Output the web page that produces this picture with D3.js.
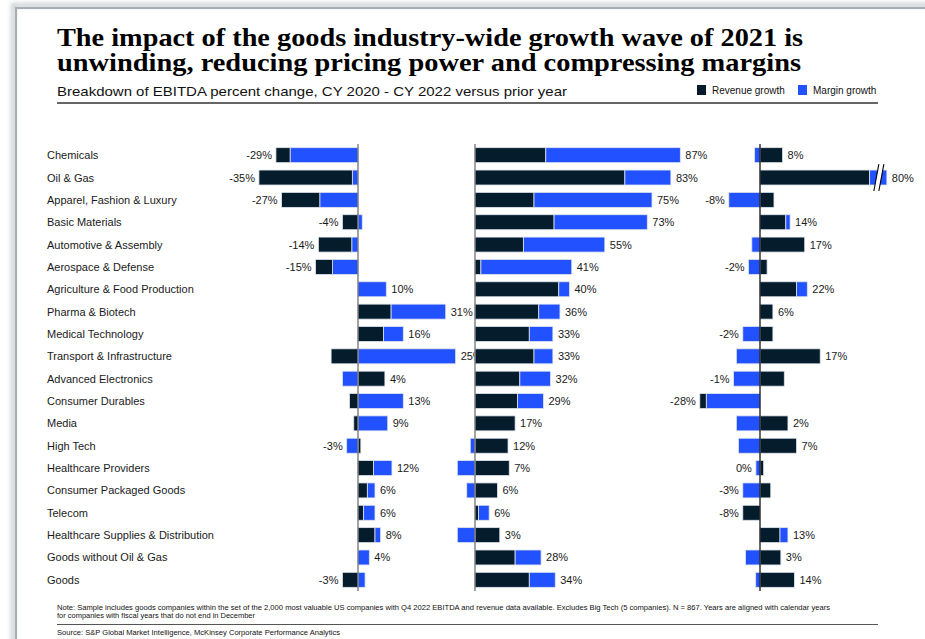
<!DOCTYPE html>
<html>
<head>
<meta charset="utf-8">
<script src="https://cdn.jsdelivr.net/npm/d3@7"></script>
<style>
  html, body { margin: 0; padding: 0; background: #fff; }
  svg { display: block; font-family: "Liberation Sans", Arial, sans-serif; }
</style>
</head>
<body>
<svg id="chart" width="925" height="639"></svg>
<script>
// Industries, top to bottom
const categories = [
  "Chemicals", "Oil & Gas", "Apparel, Fashion & Luxury", "Basic Materials",
  "Automotive & Assembly", "Aerospace & Defense", "Agriculture & Food Production",
  "Pharma & Biotech", "Medical Technology", "Transport & Infrastructure",
  "Advanced Electronics", "Consumer Durables", "Media", "High Tech",
  "Healthcare Providers", "Consumer Packaged Goods", "Telecom",
  "Healthcare Supplies & Distribution", "Goods without Oil & Gas", "Goods"
];

// EBITDA % change split into revenue-growth and margin-growth contributions
const revenue2020 = [-5, -33, -13.5, -5.5, -11.8, -6, 0, 11.7, 9, -9.5, 9.5, -3, -1.5, 1, 5.5, 3.3, 2, 6, 0, -5.5];
const margin2020  = [-24, -2, -13.5, 1.5, -2.2, -9, 10, 19.3, 7, 34.5, -5.5, 16, 10.5, -4, 6.5, 2.7, 4, 2, 4, 2.5];

const revenue2021 = [30, 63.5, 25, 33.5, 20.5, 2.5, 35.5, 27, 23, 25, 19, 18, 17, 14, 14.5, 9.5, 1.5, 10.5, 17, 23];
const margin2021  = [57, 19.5, 50, 39.5, 34.5, 38.5, 4.5, 9, 10, 8, 13, 11, 0, -2, -7.5, -3.5, 4.5, -7.5, 11, 11];

const revenue2022 = [10.5, 72, 6.5, 12, 20.8, 3.3, 17, 6, 6, 28, 11.3, -3, 13, 17, 1.7, 5, -8, 9.3, 9.7, 16];
const margin2022  = [-2.5, 8, -14.5, 2, -3.8, -5.3, 5, 0, -8, -11, -12.3, -25, -11, -10, -1.9, -8, 0, 3.7, -6.7, -2];

// Legend entries
const seriesNames = ["Revenue growth", "Margin growth"];

const COLORS = { revenue: "#051c2c", margin: "#2251ff" };
const SERIF = "'Liberation Serif', 'DejaVu Serif', serif";

const svg = d3.select("#chart");

// Page frame with a soft shadow
const defs = svg.append("defs");
const blur = defs.append("filter").attr("id", "soft").attr("x", "-10%").attr("y", "-10%").attr("width", "120%").attr("height", "120%");
blur.append("feGaussianBlur").attr("stdDeviation", 2.2);
svg.append("rect").attr("x", 13).attr("y", 5).attr("width", 960).attr("height", 700)
  .attr("fill", "none").attr("stroke", "#c9cfd3").attr("stroke-width", 4).attr("filter", "url(#soft)");
svg.append("rect").attr("x", 16).attr("y", 8).attr("width", 960).attr("height", 700)
  .attr("fill", "#fff").attr("stroke", "#a7afb5").attr("stroke-width", 2.2);

// Title block
const title = svg.append("g");
title.append("text").attr("x", 57).attr("y", 46)
  .style("font-family", SERIF).style("font-weight", 700)
  .attr("font-size", 25).attr("fill", "#000")
  .attr("textLength", 746).attr("lengthAdjust", "spacingAndGlyphs")
  .text("The impact of the goods industry-wide growth wave of 2021 is");
title.append("text").attr("x", 57).attr("y", 71)
  .style("font-family", SERIF).style("font-weight", 700)
  .attr("font-size", 25).attr("fill", "#000")
  .attr("textLength", 744).attr("lengthAdjust", "spacingAndGlyphs")
  .text("unwinding, reducing pricing power and compressing margins");
title.append("text").attr("x", 57).attr("y", 96)
  .attr("font-size", 13.5).attr("fill", "#111")
  .attr("textLength", 510).attr("lengthAdjust", "spacingAndGlyphs")
  .text("Breakdown of EBITDA percent change, CY 2020 - CY 2022 versus prior year");

// Legend
const legend = svg.append("g");
const legendX = [697, 798];
seriesNames.forEach((name, i) => {
  legend.append("rect").attr("x", legendX[i]).attr("y", 85).attr("width", 9).attr("height", 10)
    .attr("fill", i === 0 ? COLORS.revenue : COLORS.margin);
  legend.append("text").attr("x", legendX[i] + 15).attr("y", 94)
    .attr("font-size", 10).attr("fill", "#111").text(name);
});

svg.append("line").attr("x1", 57).attr("x2", 878).attr("y1", 103).attr("y2", 103)
  .attr("stroke", "#333").attr("stroke-width", 1.5);

// Rows
const y = d3.scaleBand().domain(categories).range([144, 591]).paddingInner(0.33).paddingOuter(0.165);

svg.append("g").selectAll("text").data(categories).join("text")
  .attr("x", 47).attr("y", d => y(d) + y.bandwidth() / 2 + 4)
  .attr("font-size", 11).attr("fill", "#1a1a1a").text(d => d);

// One scale per year
const panels = [
  { rev: revenue2020, mar: margin2020, x: d3.scaleLinear().domain([-40, 40]).range([358 - 113.2, 358 + 113.2]), axis: "#666" },
  { rev: revenue2021, mar: margin2021, x: d3.scaleLinear().domain([0, 90]).range([475, 475 + 212.4]), axis: "#666" },
  { rev: revenue2022, mar: margin2022, x: d3.scaleLinear().domain([-30, 60]).range([760 - 64.5, 760 + 129]), axis: "#000", breakAt: 59 }
];

const fmt = v => `${Math.round(v)}%`;

panels.forEach(p => {
  const g = svg.append("g");
  const rows = categories.map((c, i) => {
    const r = p.rev[i], m = p.mar[i];
    const segs = [];
    // positive side: revenue first, then margin
    const rPos = Math.max(r, 0), mPos = Math.max(m, 0);
    let over = 0;
    if (p.breakAt !== undefined && rPos + mPos > p.breakAt) over = rPos + mPos - p.breakAt;
    if (rPos > 0) segs.push({ k: "revenue", a: 0, b: rPos - over });
    if (mPos > 0) segs.push({ k: "margin", a: rPos - over, b: rPos - over + mPos });
    // negative side: margin next to the axis, revenue beyond it
    const mNeg = Math.min(m, 0), rNeg = Math.min(r, 0);
    if (mNeg < 0) segs.push({ k: "margin", a: mNeg, b: 0 });
    if (rNeg < 0) segs.push({ k: "revenue", a: mNeg + rNeg, b: mNeg });
    return { c, segs, total: r + m, posEnd: rPos + mPos - over, negEnd: mNeg + rNeg, broken: over > 0 };
  });

  rows.forEach(row => {
    g.selectAll(null).data(row.segs).join("rect")
      .attr("x", d => p.x(Math.min(d.a, d.b)))
      .attr("width", d => Math.abs(p.x(d.b) - p.x(d.a)))
      .attr("y", y(row.c)).attr("height", y.bandwidth())
      .attr("fill", d => COLORS[d.k])
      .attr("stroke", "#dfe4ec").attr("stroke-width", 0.8);

    if (row.broken) {
      // axis break on a clipped bar
      const bx = p.x(row.posEnd) - 13, yt = y(row.c) - 6, yb = y(row.c) + y.bandwidth() + 6;
      const sl = 5, w = 5;
      g.append("path")
        .attr("d", `M${bx},${yb} L${bx + sl},${yt} L${bx + sl + w},${yt} L${bx + w},${yb} Z`)
        .attr("fill", "#fff");
      g.append("path")
        .attr("d", `M${bx},${yb} L${bx + sl},${yt} M${bx + w},${yb} L${bx + sl + w},${yt}`)
        .attr("stroke", "#000").attr("stroke-width", 1.1).attr("fill", "none");
    }

    const neg = row.total < 0;
    g.append("text")
      .attr("x", neg ? p.x(row.negEnd) - 4 : p.x(row.posEnd) + 5)
      .attr("y", y(row.c) + y.bandwidth() / 2 + 4)
      .attr("text-anchor", neg ? "end" : "start")
      .attr("font-size", 11).attr("fill", "#1a1a1a")
      .text(fmt(row.total));
  });

  g.append("line").attr("x1", p.x(0)).attr("x2", p.x(0)).attr("y1", 144).attr("y2", 591)
    .attr("stroke", p.axis).attr("stroke-width", 1.2);
});

// Footnotes
const foot = svg.append("g").attr("fill", "#111");
foot.append("text").attr("x", 57).attr("y", 610).attr("font-size", 7.2)
  .attr("textLength", 773).attr("lengthAdjust", "spacingAndGlyphs")
  .text("Note: Sample includes goods companies within the set of the 2,000 most valuable US companies with Q4 2022 EBITDA and revenue data available. Excludes Big Tech (5 companies). N = 867. Years are aligned with calendar years");
foot.append("text").attr("x", 57).attr("y", 618).attr("font-size", 7.2)
  .attr("textLength", 198).attr("lengthAdjust", "spacingAndGlyphs")
  .text("for companies with fiscal years that do not end in December");
svg.append("line").attr("x1", 57).attr("x2", 878).attr("y1", 624.5).attr("y2", 624.5)
  .attr("stroke", "#555").attr("stroke-width", 1);
foot.append("text").attr("x", 57).attr("y", 635).attr("font-size", 7.2)
  .attr("textLength", 283).attr("lengthAdjust", "spacingAndGlyphs")
  .text("Source: S&P Global Market Intelligence, McKinsey Corporate Performance Analytics");
</script>
</body>
</html>
